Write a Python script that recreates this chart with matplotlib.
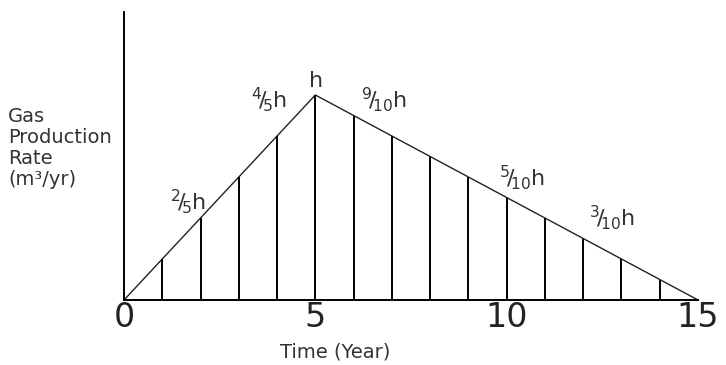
import matplotlib
matplotlib.use("Agg")
import matplotlib.pyplot as plt

# production rate as a fraction of the peak h, one value per year
years = list(range(0, 16))
rate = [0.0, 0.2, 0.4, 0.6, 0.8, 1.0, 0.9, 0.8, 0.7, 0.6, 0.5, 0.4, 0.3, 0.2, 0.1, 0.0]
tick_years = [0, 5, 10, 15]
tick_labels = ["0", "5", "10", "15"]

# annotations along the triangle
note_text = [r"$\mathregular{h}$", r"$\mathregular{^{4}\!/\!_{5}h}$", r"$\mathregular{^{2}\!/\!_{5}h}$",
             r"$\mathregular{^{9}\!/\!_{10}h}$", r"$\mathregular{^{5}\!/\!_{10}h}$",
             r"$\mathregular{^{3}\!/\!_{10}h}$"]
note_x = [5.0, 3.8, 1.68, 6.8, 10.4, 12.75]
note_y = [1.07, 0.976, 0.478, 0.98, 0.595, 0.40]

fig = plt.figure(figsize=(7.26, 3.65), dpi=100)
ax = fig.add_axes([124 / 726, 65 / 365, 574 / 726, 288 / 365])

ax.plot(years, rate, color="#222222", lw=1.0)
ax.vlines(years[1:-1], 0, rate[1:-1], color="black", lw=1.4)

ax.set_xlim(0, 15)
ax.set_ylim(0, 288 / 205)
for s in ["top", "right"]:
    ax.spines[s].set_visible(False)
ax.spines["left"].set_linewidth(1.4)
ax.spines["bottom"].set_linewidth(1.4)
ax.set_yticks([])
ax.set_xticks(tick_years)
ax.set_xticklabels(tick_labels, fontsize=24, color="#222222")
ax.tick_params(axis="x", length=0, pad=1)

for t, x, y in zip(note_text, note_x, note_y):
    ax.text(x, y, t, fontsize=16, ha="center", va="center", color="#333333")

fig.text(8 / 726, 1 - 148 / 365, "Gas\nProduction\nRate\n(m³/yr)", fontsize=14,
         ha="left", va="center", color="#333333", linespacing=1.12)
fig.text(335 / 726, 1 - 352 / 365, "Time (Year)", fontsize=14,
         ha="center", va="center", color="#333333")

fig.savefig("out.png", dpi=100)
